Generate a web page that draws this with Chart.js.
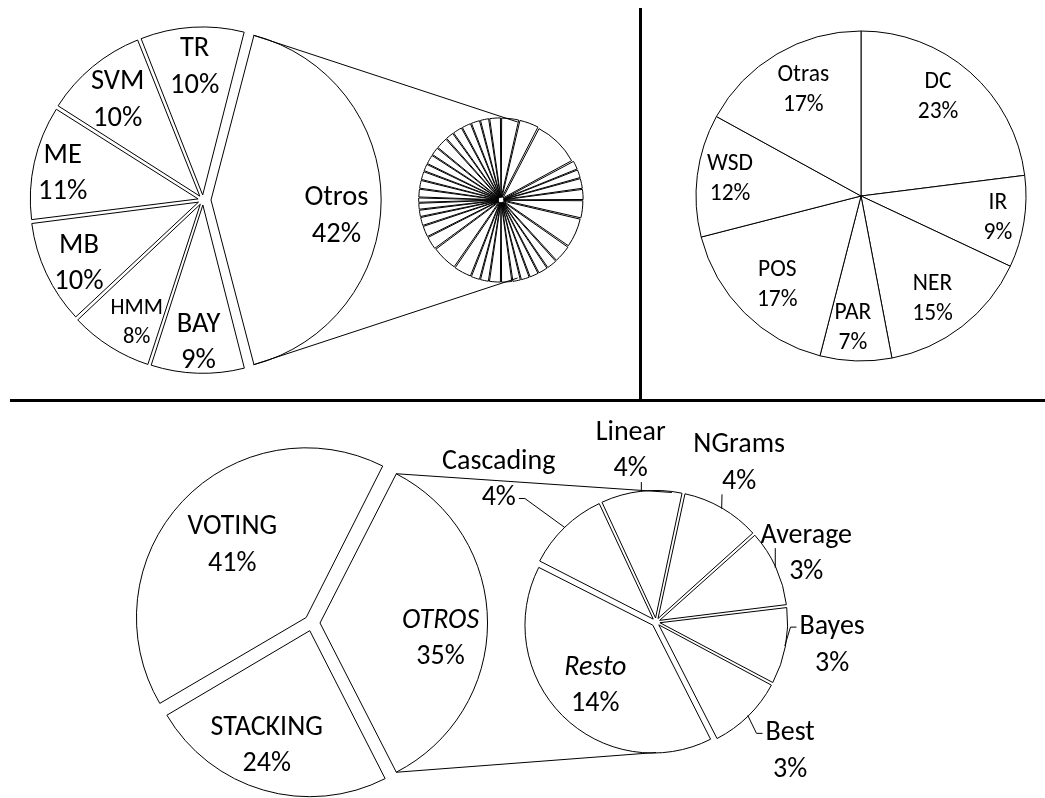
<!DOCTYPE html>
<html>
<head>
<meta charset="utf-8">
<script src="https://cdn.jsdelivr.net/npm/chart.js@4.4.1/dist/chart.umd.min.js"></script>
<style>
  body { margin: 0; background: #fff; }
  #wrap { position: relative; width: 1045px; height: 798px; overflow: hidden; background: #fff; }
  canvas { position: absolute; }
  .rule { position: absolute; background: #000; }
</style>
</head>
<body>
<div id="wrap">
  <div class="rule" style="left:639px;top:8px;width:3px;height:393px"></div>
  <div class="rule" style="left:10px;top:399px;width:1035px;height:3px"></div>
  <canvas id="tlMain"></canvas>
  <canvas id="tlSub"></canvas>
  <canvas id="trPie"></canvas>
  <canvas id="btMain"></canvas>
  <canvas id="btSub"></canvas>
  <canvas id="links" width="1045" height="798" style="left:0;top:0;pointer-events:none"></canvas>
</div>
<script>
// top left: areas, "Otros" broken down in the small pie
const tlNames = ['Otros', 'BAY', 'HMM', 'MB', 'ME', 'SVM', 'TR'];
const tlValues = [42, 9, 8, 10, 11, 10, 10];
const tlOtrosValues = [1.51, 1.68, 4.00, 0.77, 0.74, 0.89, 0.92, 1.52, 2.53, 1.53, 0.91, 0.84, 0.79, 0.75, 0.70, 0.93,
                       0.99, 0.74, 0.78, 1.52, 2.21, 1.14, 0.98, 0.75, 0.60, 0.57, 0.43, 0.72, 0.72, 0.75, 0.64, 0.84,
                       0.72, 1.03, 0.72, 0.84, 0.82, 0.77, 0.76, 0.97];

// top right: tasks
const trNames = ['DC', 'IR', 'NER', 'PAR', 'POS', 'WSD', 'Otras'];
const trValues = [23, 9, 15, 7, 17, 12, 17];

// bottom: combination methods, "OTROS" broken down
const btNames = ['OTROS', 'STACKING', 'VOTING'];
const btValues = [35, 24, 41];
const btOtrosNames = ['Resto', 'Cascading', 'Linear', 'NGrams', 'Average', 'Bayes', 'Best'];
const btOtrosValues = [14, 3.7, 3.6, 3.5, 3.4, 3.4, 3.4];

const FONT = 'Carlito, Lato, sans-serif';

function pct(vals, total) {
  return vals.map(v => Math.round(v / total * 100) + '%');
}
function sum(a) { return a.reduce((s, v) => s + v, 0); }

// draws "name / xx%" for each slice; place[i] = [radius factor, angle shift in deg]
const sliceLabels = {
  id: 'sliceLabels',
  afterDatasetsDraw(chart, args, o) {
    if (!o.names) return;
    const ctx = chart.ctx;
    const arcs = chart.getDatasetMeta(0).data;
    ctx.save();
    ctx.fillStyle = '#000';
    ctx.strokeStyle = '#000';
    ctx.lineWidth = 1;
    ctx.textAlign = 'center';
    ctx.textBaseline = 'middle';
    arcs.forEach((arc, i) => {
      const size = (o.sizes && o.sizes[i]) || o.size;
      const f = o.place[i][0], da = o.place[i][1] * Math.PI / 180;
      const mid = (arc.startAngle + arc.endAngle) / 2;
      const R = arc.outerRadius;
      const x = arc.x + Math.cos(mid + da) * R * f;
      const y = arc.y + Math.sin(mid + da) * R * f;
      const pitch = size * o.pitch;
      const lines = [o.names[i], o.pcts[i]];
      const fonts = [(o.italic && o.italic.includes(i) ? 'italic ' : '') + size + 'px ' + FONT, size + 'px ' + FONT];
      ctx.font = fonts[0];
      ctx.fillText(lines[0], x, y - pitch / 2);
      ctx.font = fonts[1];
      ctx.fillText(lines[1], x, y + pitch / 2);
      if (f > 1) {
        // leader line to the slice edge
        const t = (arc.options.offset || 0) / 4;
        const px = arc.x + Math.cos(mid) * (R + t + 1);
        const py = arc.y + Math.sin(mid) * (R + t + 1);
        const k = py > y + pitch / 2 ? 1 : 0;
        const ly = y + (k ? pitch / 2 : -pitch / 2);
        ctx.font = fonts[k];
        const w = ctx.measureText(lines[k]).width;
        const left = x - w / 2, right = x + w / 2;
        ctx.beginPath();
        if (px < left - 10) {
          ctx.moveTo(left - 3, ly); ctx.lineTo(left - 9, ly); ctx.lineTo(px, py);
        } else if (px > right + 10) {
          ctx.moveTo(right + 3, ly); ctx.lineTo(right + 9, ly); ctx.lineTo(px, py);
        } else {
          const ax = Math.min(Math.max(px, left), right);
          const ay = py > ly ? ly + size * 0.45 : ly - size * 0.55;
          ctx.moveTo(ax, ay); ctx.lineTo(px, py);
        }
        ctx.stroke();
      }
    });
    ctx.restore();
  }
};

function makePie(id, cx, cy, box, values, radius, rotation, offsets, labelOpts) {
  const cv = document.getElementById(id);
  cv.width = box; cv.height = box;
  cv.style.width = box + 'px'; cv.style.height = box + 'px';
  cv.style.left = (cx - box / 2) + 'px';
  cv.style.top = (cy - box / 2) + 'px';
  const chart = new Chart(cv, {
    type: 'pie',
    data: {
      labels: values.map((v, i) => String(i)),
      datasets: [{
        data: values,
        backgroundColor: '#fff',
        borderColor: '#000',
        borderWidth: 1,
        offset: offsets,
        hoverOffset: 0
      }]
    },
    options: {
      responsive: false,
      animation: false,
      events: [],
      radius: radius,
      rotation: rotation,
      layout: { padding: 0 },
      plugins: {
        legend: { display: false },
        tooltip: { enabled: false },
        sliceLabels: labelOpts || {}
      }
    },
    plugins: [sliceLabels]
  });
  return { chart, left: cx - box / 2, top: cy - box / 2 };
}

const tlMain = makePie('tlMain', 203, 200, 400, tlValues, 166, 90 - tlValues[0] * 1.8,
  [32, 20, 20, 20, 20, 20, 20], {
    names: tlNames, pcts: pct(tlValues, sum(tlValues)), size: 28.5, sizes: [0, 0, 22.5], pitch: 1.27,
    place: [[0.81, 7], [0.86, 0], [0.84, -4], [0.84, -2], [0.86, -2], [0.79, -1], [0.8, 0]]
  });
const tlSub = makePie('tlSub', 501, 200, 180, tlOtrosValues, 77, 0,
  tlOtrosValues.map(() => 11));
const trPie = makePie('trPie', 861, 196, 380, trValues, 165, 0, 0, {
  names: trNames, pcts: pct(trValues, sum(trValues)), size: 23.5, pitch: 1.28,
  place: [[0.76, -3.5], [0.84, 0], [0.76, 3], [0.8, 1.7], [0.74, -1.7], [0.8, 0], [0.73, 2]]
});
const btMain = makePie('btMain', 312, 623, 400, btValues, 166, 90 - btValues[0] * 1.8,
  [32, 32, 32], {
    names: btNames, pcts: pct(btValues, sum(btValues)), size: 28, italic: [0], pitch: 1.3,
    place: [[0.78, 7], [0.79, 4], [0.67, 1]]
  });
const btSub = makePie('btSub', 656, 622, 560, btOtrosValues, 126, 153,
  [18, 16, 16, 16, 16, 16, 16], {
    names: btOtrosNames, pcts: pct(btOtrosValues, sum(btValues)), size: 28, italic: [0], pitch: 1.3,
    place: [[0.7, -1.5], [1.68, -4], [1.37, -2], [1.42, -2.4], [1.31, 0], [1.41, -3], [1.48, -1.5]]
  });

// lines joining the exploded slice to its breakdown pie
function sliceEnds(p, i) {
  const a = p.chart.getDatasetMeta(0).data[i];
  const t = (a.options.offset || 0) / 4;
  const fix = 1 - Math.sin(Math.min(Math.PI, a.endAngle - a.startAngle));
  const mid = (a.startAngle + a.endAngle) / 2;
  const cx = p.left + a.x + Math.cos(mid) * t, cy = p.top + a.y + Math.sin(mid) * t;
  const r = a.outerRadius + t * fix;
  return [
    [cx + Math.cos(a.startAngle) * r, cy + Math.sin(a.startAngle) * r],
    [cx + Math.cos(a.endAngle) * r, cy + Math.sin(a.endAngle) * r]
  ];
}
// point on the small pie's rim, deg measured clockwise from 12 o'clock
function rimPoint(p, deg) {
  const a = p.chart.getDatasetMeta(0).data[0];
  const t = (a.options.offset || 0) / 4;
  const r = a.outerRadius + t;
  const ang = (deg - 90) * Math.PI / 180;
  return [p.left + a.x + Math.cos(ang) * r, p.top + a.y + Math.sin(ang) * r];
}
const lctx = document.getElementById('links').getContext('2d');
lctx.strokeStyle = '#000';
lctx.lineWidth = 1;
[[tlMain, tlSub, 12, 168], [btMain, btSub, 7, 180]].forEach(([m, s, aTop, aBot]) => {
  const ends = sliceEnds(m, 0);
  const top = rimPoint(s, aTop), bot = rimPoint(s, aBot);
  lctx.beginPath();
  lctx.moveTo(ends[0][0], ends[0][1]); lctx.lineTo(top[0], top[1]);
  lctx.moveTo(ends[1][0], ends[1][1]); lctx.lineTo(bot[0], bot[1]);
  lctx.stroke();
});
</script>
</body>
</html>
